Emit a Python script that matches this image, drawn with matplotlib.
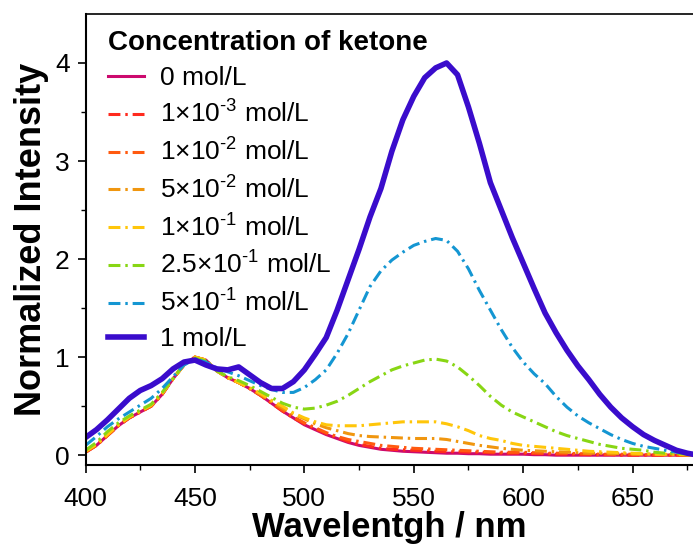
import numpy as np
import matplotlib
matplotlib.use("Agg")
import matplotlib.pyplot as plt

# ----------------------------
# Daten: normierte Emissionsspektren bei verschiedenen Ketonkonzentrationen
# ----------------------------
wavelength = np.arange(400, 681, 5)  # nm

conc_0 = [0.03, 0.10, 0.20, 0.30, 0.38, 0.44, 0.50, 0.62, 0.78, 0.92,
          1.00, 0.97, 0.86, 0.79, 0.74, 0.68, 0.61, 0.53, 0.45, 0.38,
          0.31, 0.26, 0.21, 0.17, 0.13, 0.10, 0.08, 0.06, 0.05, 0.04,
          0.035, 0.03, 0.025, 0.02, 0.02, 0.015, 0.015, 0.01, 0.01, 0.01,
          0.01, 0.005, 0.005, 0, 0, 0, 0, 0, 0, 0,
          0, 0, 0, 0, 0, 0, 0]
conc_1e3 = [0.03, 0.10, 0.20, 0.30, 0.38, 0.44, 0.50, 0.62, 0.78, 0.92,
            1.00, 0.97, 0.86, 0.79, 0.74, 0.68, 0.61, 0.53, 0.45, 0.38,
            0.32, 0.27, 0.22, 0.18, 0.14, 0.11, 0.09, 0.07, 0.06, 0.055,
            0.05, 0.045, 0.04, 0.035, 0.035, 0.03, 0.03, 0.025, 0.02, 0.02,
            0.02, 0.015, 0.015, 0.01, 0.01, 0.01, 0.005, 0.005, 0.005, 0,
            0, 0, 0, 0, 0, 0, 0]
conc_1e2 = [0.03, 0.10, 0.20, 0.30, 0.38, 0.44, 0.50, 0.62, 0.78, 0.92,
            1.00, 0.97, 0.86, 0.79, 0.74, 0.68, 0.61, 0.54, 0.46, 0.39,
            0.33, 0.28, 0.23, 0.19, 0.16, 0.14, 0.12, 0.10, 0.09, 0.08,
            0.07, 0.065, 0.06, 0.055, 0.05, 0.045, 0.04, 0.035, 0.03, 0.03,
            0.03, 0.025, 0.02, 0.02, 0.02, 0.015, 0.015, 0.01, 0.01, 0.01,
            0.01, 0.005, 0.005, 0, 0, 0, 0]
conc_5e2 = [0.04, 0.11, 0.21, 0.31, 0.39, 0.45, 0.51, 0.63, 0.78, 0.92,
            1.00, 0.97, 0.86, 0.79, 0.74, 0.68, 0.62, 0.55, 0.48, 0.42,
            0.37, 0.32, 0.28, 0.25, 0.22, 0.20, 0.19, 0.185, 0.18, 0.175,
            0.17, 0.17, 0.17, 0.16, 0.14, 0.12, 0.10, 0.085, 0.07, 0.06,
            0.05, 0.045, 0.04, 0.035, 0.03, 0.025, 0.02, 0.02, 0.015, 0.015,
            0.01, 0.01, 0.01, 0.005, 0.005, 0, 0]
conc_1e1 = [0.04, 0.11, 0.21, 0.31, 0.39, 0.45, 0.51, 0.63, 0.78, 0.92,
            1.00, 0.97, 0.86, 0.79, 0.74, 0.69, 0.63, 0.56, 0.50, 0.43,
            0.38, 0.34, 0.31, 0.30, 0.30, 0.30, 0.31, 0.32, 0.33, 0.34,
            0.34, 0.34, 0.34, 0.32, 0.29, 0.25, 0.20, 0.17, 0.15, 0.12,
            0.10, 0.09, 0.08, 0.07, 0.06, 0.05, 0.04, 0.035, 0.03, 0.025,
            0.02, 0.015, 0.01, 0.01, 0.01, 0.005, 0]
conc_25e2 = [0.05, 0.13, 0.24, 0.33, 0.40, 0.46, 0.52, 0.64, 0.78, 0.93,
             0.99, 0.96, 0.86, 0.80, 0.76, 0.71, 0.65, 0.59, 0.53, 0.49,
             0.47, 0.48, 0.51, 0.55, 0.61, 0.68, 0.75, 0.81, 0.87, 0.91,
             0.94, 0.97, 0.98, 0.96, 0.90, 0.81, 0.71, 0.60, 0.51, 0.44,
             0.39, 0.34, 0.29, 0.24, 0.20, 0.17, 0.14, 0.11, 0.09, 0.07,
             0.06, 0.05, 0.03, 0.02, 0.02, 0.01, 0.005]
conc_5e1 = [0.10, 0.19, 0.29, 0.37, 0.44, 0.51, 0.58, 0.68, 0.80, 0.92,
            0.98, 0.95, 0.89, 0.85, 0.81, 0.76, 0.71, 0.67, 0.64, 0.64,
            0.69, 0.77, 0.87, 1.04, 1.24, 1.48, 1.72, 1.88, 1.99, 2.07,
            2.14, 2.18, 2.21, 2.19, 2.08, 1.90, 1.68, 1.48, 1.28, 1.10,
            0.95, 0.83, 0.73, 0.60, 0.49, 0.40, 0.33, 0.27, 0.21, 0.16,
            0.12, 0.09, 0.07, 0.05, 0.03, 0.02, 0.01]
conc_1 = [0.18, 0.26, 0.36, 0.47, 0.58, 0.66, 0.71, 0.78, 0.88, 0.95,
          0.97, 0.92, 0.88, 0.87, 0.90, 0.82, 0.74, 0.68, 0.68, 0.75,
          0.87, 1.03, 1.20, 1.48, 1.79, 2.10, 2.43, 2.72, 3.10, 3.42,
          3.66, 3.85, 3.95, 4.00, 3.88, 3.55, 3.18, 2.78, 2.50, 2.22,
          1.96, 1.70, 1.45, 1.25, 1.07, 0.91, 0.77, 0.62, 0.49, 0.38,
          0.29, 0.21, 0.15, 0.10, 0.05, 0.02, 0.0]

labels = ["0 mol/L",
          r"1×10$^{\text{-}3}$ mol/L",
          r"1×10$^{\text{-}2}$ mol/L",
          r"5×10$^{\text{-}2}$ mol/L",
          r"1×10$^{\text{-}1}$ mol/L",
          r"2.5×10$^{\text{-}1}$ mol/L",
          r"5×10$^{\text{-}1}$ mol/L",
          "1 mol/L"]
series = [conc_0, conc_1e3, conc_1e2, conc_5e2, conc_1e1, conc_25e2, conc_5e1, conc_1]
colors = ["#cc0a6e", "#ff2a1e", "#ff5a0f", "#f0960f", "#ffc60a", "#88d614", "#1496d2", "#3a0ccc"]

# ----------------------------
# Plot
# ----------------------------
plt.rcParams["font.family"] = ["Liberation Sans", "DejaVu Sans"]
plt.rcParams["mathtext.fontset"] = "custom"
plt.rcParams["mathtext.rm"] = "Liberation Sans"
plt.rcParams["mathtext.it"] = "Liberation Sans:italic"
plt.rcParams["mathtext.bf"] = "Liberation Sans:bold"

fig = plt.figure(figsize=(6.93, 5.48), dpi=100)
ax = fig.add_axes([0.1234, 0.1515, 0.8766, 0.823])

dashdot = (0, (3.9, 1.6, 0.8, 1.6))
for i, (y, lab, c) in enumerate(zip(series, labels, colors)):
    if i == 0:
        ax.plot(wavelength, y, color=c, lw=2.2, label=lab)
    elif i == len(series) - 1:
        ax.plot(wavelength, y, color=c, lw=4.0, label=lab)
    else:
        ax.plot(wavelength, y, color=c, lw=2.2, linestyle=dashdot, label=lab)

ax.set_xlim(400, 677.6)
ax.set_ylim(-0.1, 4.5)
ax.set_xticks([400, 450, 500, 550, 600, 650])
ax.set_xticks(np.arange(425, 677, 50), minor=True)
ax.set_yticks([0, 1, 2, 3, 4])
ax.set_yticks([0.5, 1.5, 2.5, 3.5], minor=True)

ax.spines["right"].set_visible(False)
ax.spines["top"].set_linewidth(1.2)
for s in ["left", "bottom"]:
    ax.spines[s].set_linewidth(1.5)
ax.tick_params(which="major", direction="out", length=6, width=1.2, labelsize=19,
               top=False, right=False)
ax.tick_params(axis="x", which="major", pad=9.5)
ax.tick_params(axis="y", which="major", pad=5.5)
ax.tick_params(which="minor", direction="out", length=3.5, width=1.0, top=False, right=False)
for t in ax.get_xticklabels() + ax.get_yticklabels():
    t.set_family(["Liberation Sans Narrow", "Liberation Sans"])

ax.set_xlabel("Wavelentgh / nm", fontsize=25, fontweight="bold", labelpad=0)
ax.set_ylabel("Normalized Intensity", fontsize=26, fontweight="bold", labelpad=4)

leg = ax.legend(loc="upper left", bbox_to_anchor=(0.037, 0.965), frameon=False,
                fontsize=19, title="Concentration of ketone",
                title_fontproperties={"weight": "bold", "size": 20},
                alignment="left", borderpad=0, borderaxespad=0,
                handlelength=1.36, handletextpad=0.6, labelspacing=0.4)

fig.savefig("out.png", dpi=100)
